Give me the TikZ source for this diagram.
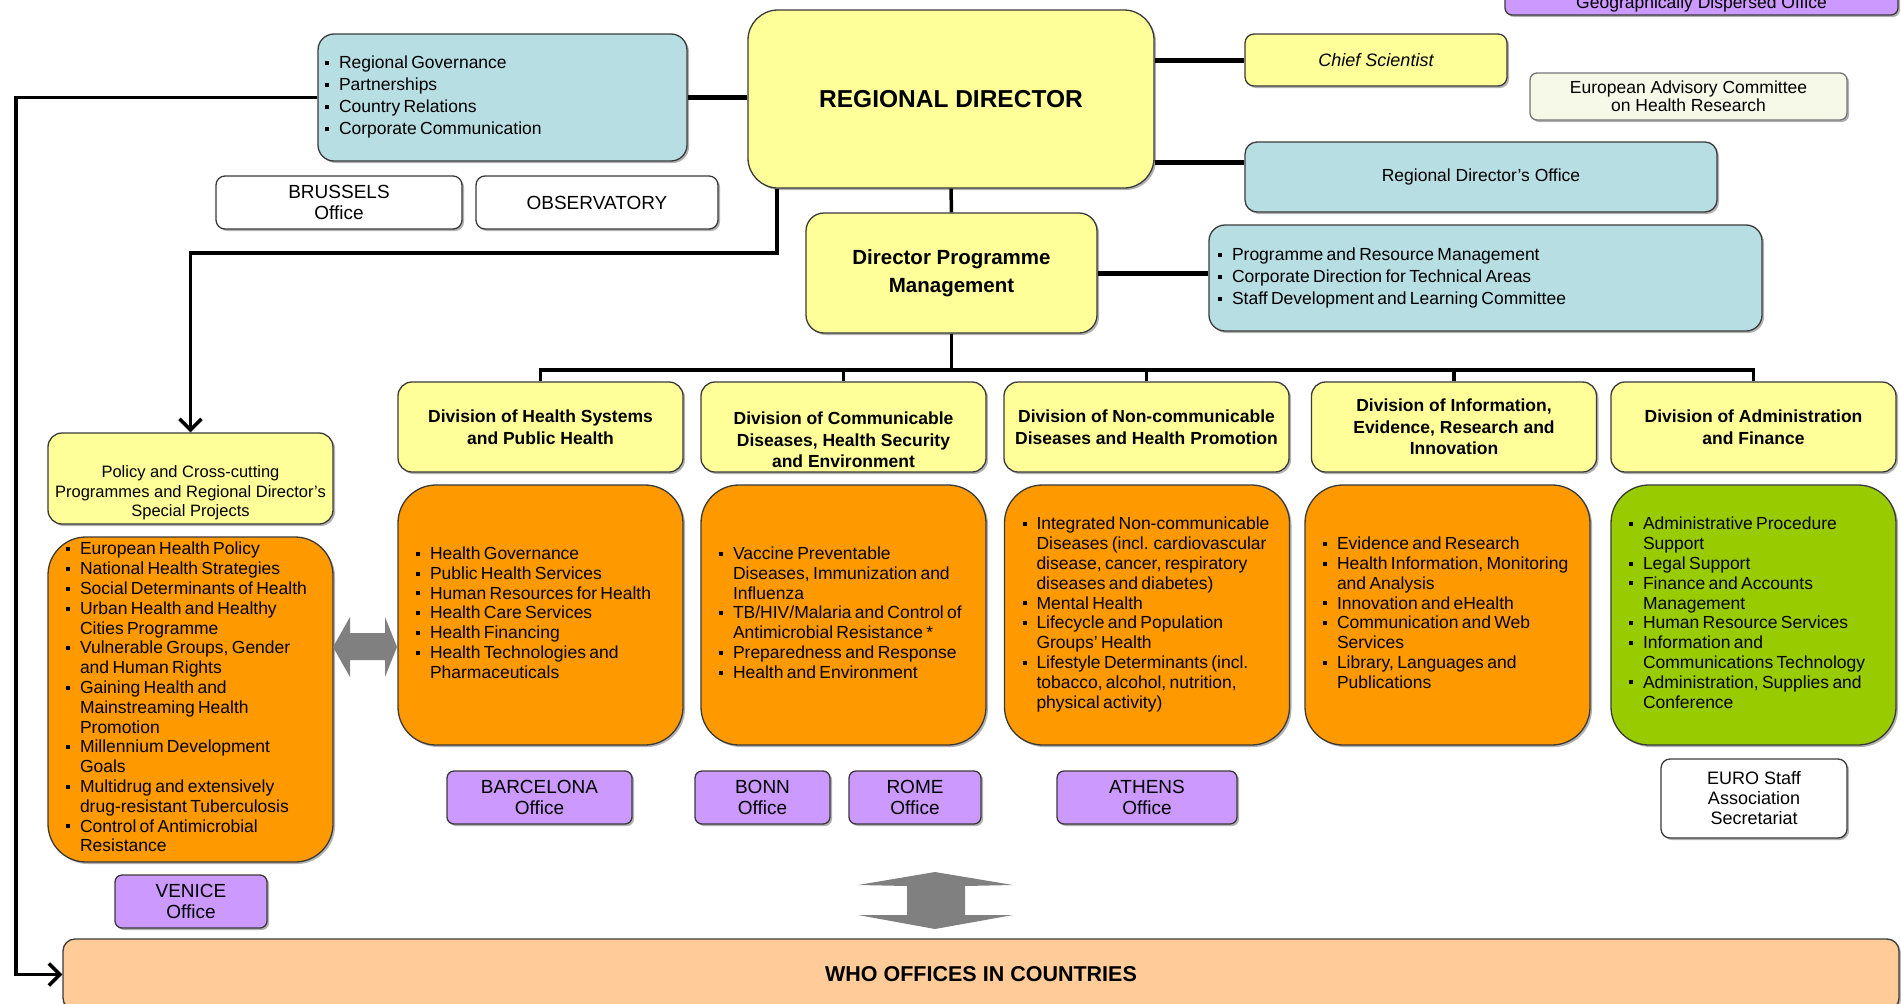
\documentclass[tikz,border=0pt]{standalone}
\usepackage{fontspec}
\setmainfont{Liberation Sans}
\usetikzlibrary{arrows.meta,shadows}
\definecolor{yel}{HTML}{FFFF99}
\definecolor{tealc}{HTML}{B7DEE3}
\definecolor{orgc}{HTML}{FF9900}
\definecolor{grnc}{HTML}{99CC00}
\definecolor{purc}{HTML}{CC99FF}
\definecolor{peachc}{HTML}{FFCC99}
\definecolor{creamc}{HTML}{F6F8E8}
\definecolor{bordc}{HTML}{3A3A3A}
\definecolor{arrgray}{HTML}{808080}
\newcommand{\fsz}[2]{\fontsize{#1pt}{#2pt}\selectfont}
\newcommand{\sqb}{\rule[0.22em]{4pt}{4pt}}
\newcommand{\blist}[1]{\begin{tabular}{@{}l@{\hspace{10pt}}l@{}}#1\end{tabular}}
\newcommand{\lowtext}[2]{\raisebox{-#1}[\height][\depth]{\begin{tabular}{@{}c@{}}#2\end{tabular}}}
\tikzset{
  box/.style={draw=bordc, line width=1.3pt, inner sep=0pt,
    drop shadow={shadow xshift=2pt, shadow yshift=-2pt, fill=black, opacity=0.3}},
  yelbox/.style={box, fill=yel, rounded corners=14pt, align=center, font=\bfseries\fsz{17.5}{21.5}},
  tealbox/.style={box, fill=tealc, rounded corners=16pt},
  orgbox/.style={box, fill=orgc, rounded corners=38pt, minimum height=260pt, inner xsep=18pt, text width=249pt},
  purbox/.style={box, fill=purc, rounded corners=7pt, align=center, font=\fsz{19}{21}},
  whitebox/.style={box, fill=white, rounded corners=9pt, align=center, font=\fsz{19}{21}},
  conn/.style={line width=3.5pt, draw=black},
  connT/.style={line width=5pt, draw=black},
  barb/.style={-{Straight Barb[length=11pt,width=22pt]}},
}
\begin{document}
\begin{tikzpicture}[x=1pt,y=-1pt]
\useasboundingbox (0,0) rectangle (1901,1004);
\clip (0,0) rectangle (1901,1004);

% top row
\node[purbox, minimum width=393pt, minimum height=28pt, font=\fsz{17.5}{20}] (gdo) at (1701.5,1) {\lowtext{3pt}{Geographically Dispersed Office}};
\node[yelbox, rounded corners=30pt, minimum width=406pt, minimum height=178pt, font=\bfseries\fsz{24.5}{28}] (rd) at (951,99) {REGIONAL DIRECTOR};
\node[tealbox, minimum height=127pt, text width=355pt, inner xsep=7pt] (tealL) at (502.5,97.5)
  {\fsz{17.5}{22}\blist{\sqb & Regional Governance\\ \sqb & Partnerships\\ \sqb & Country Relations\\ \sqb & Corporate Communication}};
\node[whitebox, minimum width=246pt, minimum height=53pt] (brussels) at (339,202.5) {BRUSSELS\\Office};
\node[whitebox, minimum width=242pt, minimum height=53pt] (obs) at (597,202.5) {OBSERVATORY};
\node[box, fill=yel, rounded corners=9pt, minimum width=262pt, minimum height=52pt, font=\itshape\fsz{18}{21}] (chief) at (1376,60) {Chief Scientist};
\node[box, draw=bordc!70, fill=creamc, rounded corners=7pt, minimum width=317pt, minimum height=47pt, align=center, font=\fsz{17.5}{18}] (eac) at (1688.5,96.5) {European Advisory Committee\\on Health Research};
\node[tealbox, rounded corners=12pt, minimum width=472pt, minimum height=70pt, font=\fsz{17.5}{21}] (rdo) at (1481,177) {Regional Director’s Office};
\node[yelbox, rounded corners=18pt, minimum width=291pt, minimum height=120pt, font=\bfseries\fsz{20.5}{28}] (dpm) at (951.5,273) {Director Programme\\Management};
\node[tealbox, minimum height=106pt, text width=535pt, inner xsep=9pt] (tealR) at (1485.5,278)
  {\fsz{17.5}{22}\blist{\sqb & Programme and Resource Management\\ \sqb & Corporate Direction for Technical Areas\\ \sqb & Staff Development and Learning Committee}};

% divisions
\node[yelbox, minimum width=285pt, minimum height=90pt] (div1) at (540.5,427) {Division of Health Systems\\and Public Health};
\node[yelbox, minimum width=285pt, minimum height=90pt] (div2) at (843.5,427) {\lowtext{15pt}{Division of Communicable\\Diseases, Health Security\\and Environment}};
\node[yelbox, minimum width=285pt, minimum height=90pt] (div3) at (1146.5,427) {Division of Non-communicable\\Diseases and Health Promotion};
\node[yelbox, minimum width=285pt, minimum height=90pt] (div4) at (1454,427) {Division of Information,\\Evidence, Research and\\Innovation};
\node[yelbox, minimum width=285pt, minimum height=90pt] (div5) at (1753.5,427) {Division of Administration\\and Finance};

% policy column
\node[yelbox, minimum width=285pt, minimum height=91pt, font=\fsz{16.5}{19.5}] (policy) at (190.5,478.5) {\lowtext{15pt}{Policy and Cross-cutting\\Programmes and Regional Director’s\\Special Projects}};
\node[orgbox, minimum height=325pt] (leftO) at (190.5,699.5)
  {\fsz{17.5}{19.8}\blist{\sqb & European Health Policy\\ \sqb & National Health Strategies\\ \sqb & Social Determinants of Health\\ \sqb & Urban Health and Healthy\\ & Cities Programme\\ \sqb & Vulnerable Groups, Gender\\ & and Human Rights\\ \sqb & Gaining Health and\\ & Mainstreaming Health\\ & Promotion\\ \sqb & Millennium Development\\ & Goals\\ \sqb & Multidrug and extensively\\ & drug-resistant Tuberculosis\\ \sqb & Control of Antimicrobial\\ & Resistance}};

% programme boxes
\node[orgbox] (o1) at (540.5,615)
  {\fsz{17.5}{19.8}\blist{\sqb & Health Governance\\ \sqb & Public Health Services\\ \sqb & Human Resources for Health\\ \sqb & Health Care Services\\ \sqb & Health Financing\\ \sqb & Health Technologies and\\ & Pharmaceuticals}};
\node[orgbox] (o2) at (843.5,615)
  {\fsz{17.5}{19.8}\blist{\sqb & Vaccine Preventable\\ & Diseases, Immunization and\\ & Influenza\\ \sqb & TB/HIV/Malaria and Control of\\ & Antimicrobial Resistance *\\ \sqb & Preparedness and Response\\ \sqb & Health and Environment}};
\node[orgbox] (o3) at (1147,615)
  {\fsz{17.5}{19.8}\blist{\sqb & Integrated Non-communicable\\ & Diseases (incl. cardiovascular\\ & disease, cancer, respiratory\\ & diseases and diabetes)\\ \sqb & Mental Health\\ \sqb & Lifecycle and Population\\ & Groups’ Health\\ \sqb & Lifestyle Determinants (incl.\\ & tobacco, alcohol, nutrition,\\ & physical activity)}};
\node[orgbox] (o4) at (1447.5,615)
  {\fsz{17.5}{19.8}\blist{\sqb & Evidence and Research\\ \sqb & Health Information, Monitoring\\ & and Analysis\\ \sqb & Innovation and eHealth\\ \sqb & Communication and Web\\ & Services\\ \sqb & Library, Languages and\\ & Publications}};
\node[orgbox, fill=grnc] (o5) at (1753.5,615)
  {\fsz{17.5}{19.8}\blist{\sqb & Administrative Procedure\\ & Support\\ \sqb & Legal Support\\ \sqb & Finance and Accounts\\ & Management\\ \sqb & Human Resource Services\\ \sqb & Information and\\ & Communications Technology\\ \sqb & Administration, Supplies and\\ & Conference}};

% offices
\node[purbox, minimum width=185pt, minimum height=53pt] (barcelona) at (539.5,797.5) {BARCELONA\\Office};
\node[purbox, minimum width=135pt, minimum height=53pt] (bonn) at (762.5,797.5) {BONN\\Office};
\node[purbox, minimum width=132pt, minimum height=53pt] (rome) at (915,797.5) {ROME\\Office};
\node[purbox, minimum width=180pt, minimum height=53pt] (athens) at (1147,797.5) {ATHENS\\Office};
\node[whitebox, minimum width=186pt, minimum height=79pt, font=\fsz{18}{20}] (euro) at (1754,798.5) {EURO Staff\\Association\\Secretariat};
\node[purbox, minimum width=152pt, minimum height=53pt] (venice) at (191,901.5) {VENICE\\Office};
\node[box, fill=peachc, rounded corners=12pt, minimum width=1836pt, minimum height=71pt, font=\bfseries\fsz{21.5}{24}] (who) at (981,974.5) {WHO OFFICES IN COUNTRIES};

% grey block arrows
\fill[arrgray] (333,647) -- (350,617) -- (350,633) -- (385,633) -- (385,617) -- (397,647)
  -- (385,677) -- (385,660) -- (350,660) -- (350,677) -- cycle;
\fill[arrgray] (935,872) -- (1013,885) -- (965,886) -- (965,915) -- (1013,915) -- (935,929)
  -- (858,915) -- (907,915) -- (907,886) -- (858,885) -- cycle;

% connectors
\draw[connT] (tealL.east) -- (tealL.east -| rd.west);
\draw[connT] (chief.west -| rd.east) -- (chief.west);
\draw[connT] ([yshift=15pt]rdo.west -| rd.east) -- ([yshift=15pt]rdo.west);
\draw[conn] (rd.south) -- (dpm.north);
\draw[connT] (dpm.east) -- (dpm.east -| tealR.west);
\coordinate (lc) at (16,97.5);
\draw[conn, barb] (tealL.west) -- (lc) |- (who.west);
\coordinate (pk) at (777,253);
\draw[conn, barb] (pk |- rd.south) -- (pk) -| (policy.north);
\coordinate (bus) at (951.5,370);
\draw[conn] (dpm.south) -- (bus);
\draw[conn] (div1.north) |- (bus) -| (div5.north);
\draw[conn] (div2.north) -- (div2.north |- bus);
\draw[conn] (div3.north) -- (div3.north |- bus);
\draw[conn] (div4.north) -- (div4.north |- bus);
\end{tikzpicture}
\end{document}
